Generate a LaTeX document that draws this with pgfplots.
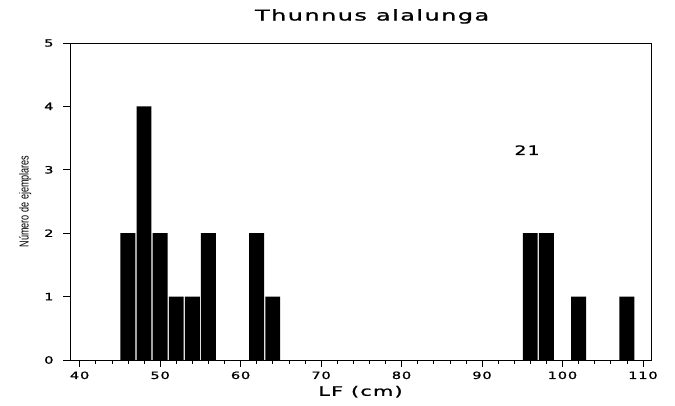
\documentclass[border=0pt]{standalone}
\usepackage{fontspec}
\setmainfont{Liberation Sans}
\newfontfamily\wide[LetterSpace=6,FakeBold=1]{DejaVu Sans}
\usepackage{pgfplots}
\pgfplotsset{compat=1.18}
\newcommand{\tl}[1]{\scalebox{1.45}[1]{\wide\fontsize{10}{11}\selectfont #1}}
\begin{document}
\begin{tikzpicture}
\useasboundingbox (0,0) rectangle (675pt,406pt);
\begin{axis}[
  at={(70pt,46pt)}, anchor=south west,
  scale only axis, width=581pt, height=317pt,
  xmin=38.8, xmax=111, ymin=0, ymax=5,
  axis line style={line width=0.7pt},
  xtick={40,50,...,110}, minor x tick num=4,
  ytick={0,1,...,5},
  xtick pos=bottom, ytick pos=left,
  tick align=outside,
  major tick length=7pt, minor tick length=4pt,
  every tick/.style={black, line width=0.6pt},
  xticklabel={\tl{\pgfmathprintnumber[assume math mode=true]{\tick}}},
  yticklabel={\tl{\pgfmathprintnumber[assume math mode=true]{\tick}}},
  xticklabel style={yshift=-1pt},
  yticklabel style={xshift=-6pt},
  xlabel={\scalebox{1.6}[1]{\wide\fontsize{13}{15}\selectfont LF (cm)}},
  xlabel style={at={(axis description cs:0.5,-0.1)}, anchor=center},
  ylabel={\scalebox{0.7}[1]{\fontsize{13}{15}\selectfont Número de ejemplares}},
  ylabel style={at={(axis description cs:-0.077,0.5)}, anchor=center},
  title={\scalebox{1.6}[1]{\wide\fontsize{15}{17}\selectfont Thunnus alalunga}},
  title style={at={(axis description cs:0.52,1.065)}, anchor=center},
]
\addplot[ybar, bar width=1.85, fill=black, draw=none] coordinates {
  (46,2) (48,4) (50,2) (52,1) (54,1) (56,2)
  (62,2) (64,1)
  (96,2) (98,2) (102,1) (108,1)
};
\node at (axis cs:95.6,3.31) {\scalebox{1.45}[1]{\wide\fontsize{13}{15}\selectfont 21}};
\end{axis}
\end{tikzpicture}
\end{document}
